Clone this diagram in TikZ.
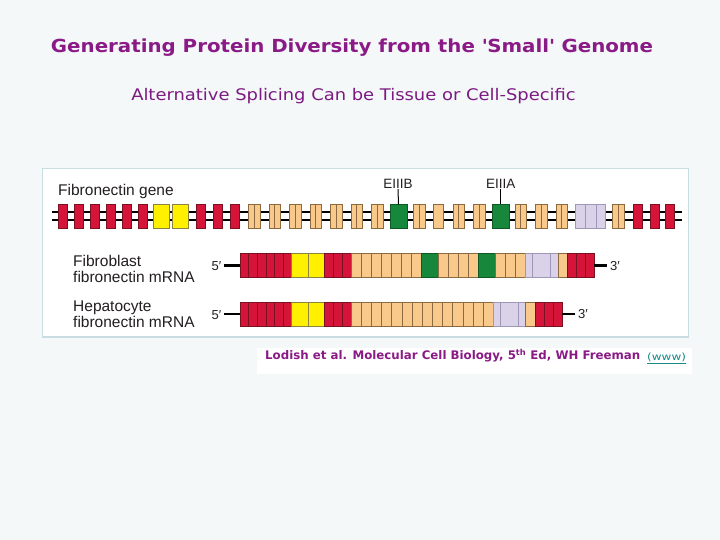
\documentclass[tikz,border=0pt]{standalone}
\usepackage{fontspec}
\setmainfont{Liberation Sans}
\newfontfamily\verd{DejaVu Sans}
\newfontfamily\ttlfont[FakeStretch=1.1]{DejaVu Sans Bold}
\newfontfamily\subfont[FakeStretch=1.12]{DejaVu Sans}
\newfontfamily\wwwfont[FakeStretch=1.2]{DejaVu Sans}
\definecolor{bg}{HTML}{F4F8F9}
\definecolor{panelline}{HTML}{C8DCE2}
\definecolor{ttl}{HTML}{8A1A86}
\definecolor{sub}{HTML}{7C1A82}
\definecolor{teal}{HTML}{1A8A88}
\definecolor{exred}{HTML}{D6143A}
\definecolor{exredline}{HTML}{7A1020}
\definecolor{exyel}{HTML}{FFF000}
\definecolor{exyelline}{HTML}{8A8440}
\definecolor{extan}{HTML}{F8C98B}
\definecolor{extanline}{HTML}{8B6A40}
\definecolor{exgrn}{HTML}{17873B}
\definecolor{exgrnline}{HTML}{0D5A25}
\definecolor{exlav}{HTML}{D9D2E9}
\definecolor{exlavline}{HTML}{9F97B7}
\definecolor{txt}{HTML}{231F20}
\tikzset{
  redx/.style={fill=exred, draw=exredline, line width=0.6pt},
  yelx/.style={fill=exyel, draw=exyelline, line width=0.6pt},
  tanx/.style={fill=extan, draw=extanline, line width=0.6pt},
  grnx/.style={fill=exgrn, draw=exgrnline, line width=0.6pt},
  lavx/.style={fill=exlav, draw=exlavline, line width=0.6pt},
  grnnode/.style={grnx, minimum width=17pt, minimum height=24pt, inner sep=0pt, outer sep=0pt},
  lbl/.style={font=\fontsize{15.5}{17}\selectfont, text=txt, inner sep=0pt, anchor=base west},
  endlbl/.style={font=\fontsize{13}{15}\selectfont, text=txt, inner sep=0pt, anchor=base west},
  exlbl/.style={font=\fontsize{13.5}{15}\selectfont, text=txt, inner sep=1pt, anchor=base},
  endline/.style={line width=2.4pt, black},
  geneline/.style={line width=2.2pt, black}
}
% cells: x0, x1, n, ytop, ybot, style
\newcommand\mycells[6]{%
  \pgfmathsetmacro\cw{(#2-#1)/#3}%
  \foreach \k in {1,...,#3}{\draw[#6] ({#1+(\k-1)*\cw},#4) rectangle ({#1+\k*\cw},#5);}%
}
\begin{document}
\begin{tikzpicture}[x=1pt,y=-1pt]
\fill[bg] (0,0) rectangle (720,540);
\useasboundingbox (0,0) rectangle (720,540);

% titles
\node[font=\ttlfont\fontsize{18}{20}\selectfont, text=ttl] (title) at (352,48)
  {Generating Protein Diversity from the \textquotesingle Small\textquotesingle\ Genome};
\node[font=\subfont\fontsize{16}{18}\selectfont, text=sub] (subtitle) at (353.5,96)
  {Alternative Splicing Can be Tissue or Cell-Specific};

% panel
\draw[panelline, line width=1.2pt, fill=white] (42.5,168.5) rectangle (688.5,337);

% ---------- gene ----------
\node[lbl] (genelbl) at (58,195.5) {Fibronectin gene};
\draw[geneline] (51.5,212.3) -- (681.5,212.3);
\draw[geneline] (51.5,219.7) -- (681.5,219.7);
\def\gt{204.5}\def\gb{228.5}
\foreach \a in {58.5,74.5,90.5,106.5,122,138,196,213,230,633.5,650,665}
  \draw[redx] (\a,\gt) rectangle ++(9,24);
\foreach \a in {153.5,172.5}
  \draw[yelx] (\a,\gt) rectangle ++(16,24);
\foreach \a in {248.5,269,289.5,310,330.5,351,371.5,413.5,453,473.5,515,535.5,556,612.5}{
  \draw[tanx] (\a,\gt) rectangle ++(5.75,24);
  \draw[tanx] (\a+5.75,\gt) rectangle ++(5.75,24);
}
\draw[tanx] (433,\gt) rectangle (443.5,\gb);
\draw[lavx] (575,\gt) rectangle (605,\gb);
\draw[exlavline, line width=0.6pt] (585,\gt) -- (585,\gb) (596,\gt) -- (596,\gb);
\node[grnnode] (g1) at (398.5,216.5) {};
\node[grnnode] (g2) at (500.8,216.5) {};
\node[exlbl] (eiiib) at (398,189) {EIIIB};
\node[exlbl] (eiiia) at (500.8,189) {EIIIA};
\draw[line width=1pt] (eiiib.south) ++(0,-1) -- (g1.north);
\draw[line width=1pt] (eiiia.south) ++(0,-1) -- (g2.north);

% ---------- fibroblast mRNA ----------
\node[lbl] (fib1) at (73,266) {Fibroblast};
\node[lbl] (fib2) at (73,282.7) {fibronectin mRNA};
\def\ft{253.5}\def\fb{277.5}
\mycells{240}{291.7}{6}{\ft}{\fb}{redx}
\mycells{291.7}{324.3}{2}{\ft}{\fb}{yelx}
\mycells{324.3}{351}{3}{\ft}{\fb}{redx}
\mycells{351}{421.7}{7}{\ft}{\fb}{tanx}
\mycells{421.7}{438.3}{1}{\ft}{\fb}{grnx}
\mycells{438.3}{478.3}{4}{\ft}{\fb}{tanx}
\mycells{478.3}{495}{1}{\ft}{\fb}{grnx}
\mycells{495}{525.3}{3}{\ft}{\fb}{tanx}
\draw[lavx] (525.3,\ft) rectangle (558.3,\fb);
\draw[exlavline, line width=0.6pt] (532,\ft) -- (532,\fb) (550.5,\ft) -- (550.5,\fb);
\mycells{558.3}{567.3}{1}{\ft}{\fb}{tanx}
\mycells{567.3}{594.3}{3}{\ft}{\fb}{redx}
\coordinate (fs) at (240,265.5);
\coordinate (fe) at (594.3,265.5);
\node[endlbl] (f5) at (211.5,270.5) {5′};
\node[endlbl] (f3) at (610,270.3) {3′};
\draw[endline] (f5.east |- fs) ++(2.5,0) -- (fs);
\draw[endline] (fe) -- ([xshift=-3pt]f3.west |- fe);

% ---------- hepatocyte mRNA ----------
\node[lbl] (hep1) at (73,311) {Hepatocyte};
\node[lbl] (hep2) at (73,327.7) {fibronectin mRNA};
\def\ht{302}\def\hb{326}
\mycells{240}{291.7}{6}{\ht}{\hb}{redx}
\mycells{291.7}{324.3}{2}{\ht}{\hb}{yelx}
\mycells{324.3}{351}{3}{\ht}{\hb}{redx}
\mycells{351}{493.3}{14}{\ht}{\hb}{tanx}
\draw[lavx] (493.3,\ht) rectangle (525,\hb);
\draw[exlavline, line width=0.6pt] (500,\ht) -- (500,\hb) (518.3,\ht) -- (518.3,\hb);
\mycells{525}{535}{1}{\ht}{\hb}{tanx}
\mycells{535}{562}{3}{\ht}{\hb}{redx}
\coordinate (hs) at (240,314);
\coordinate (he) at (562,314);
\node[endlbl] (h5) at (211.5,319) {5′};
\node[endlbl] (h3) at (578,318.7) {3′};
\draw[endline] (h5.east |- hs) ++(2.5,0) -- (hs);
\draw[endline] (he) -- ([xshift=-3pt]h3.west |- he);

% ---------- citation ----------
\fill[white] (257,347.5) rectangle (692,373.5);
\node[font=\verd\bfseries\fontsize{11.8}{13}\selectfont, text=ttl, anchor=west, inner sep=0pt] (cite) at (265,361)
  {Lodish et al. Molecular Cell Biology, 5\textsuperscript{th} Ed, WH Freeman};
\node[font=\wwwfont\fontsize{10}{12}\selectfont, text=teal, anchor=west, inner sep=0pt] (www) at (647,362)
  {\underline{(www)}};
\end{tikzpicture}
\end{document}
